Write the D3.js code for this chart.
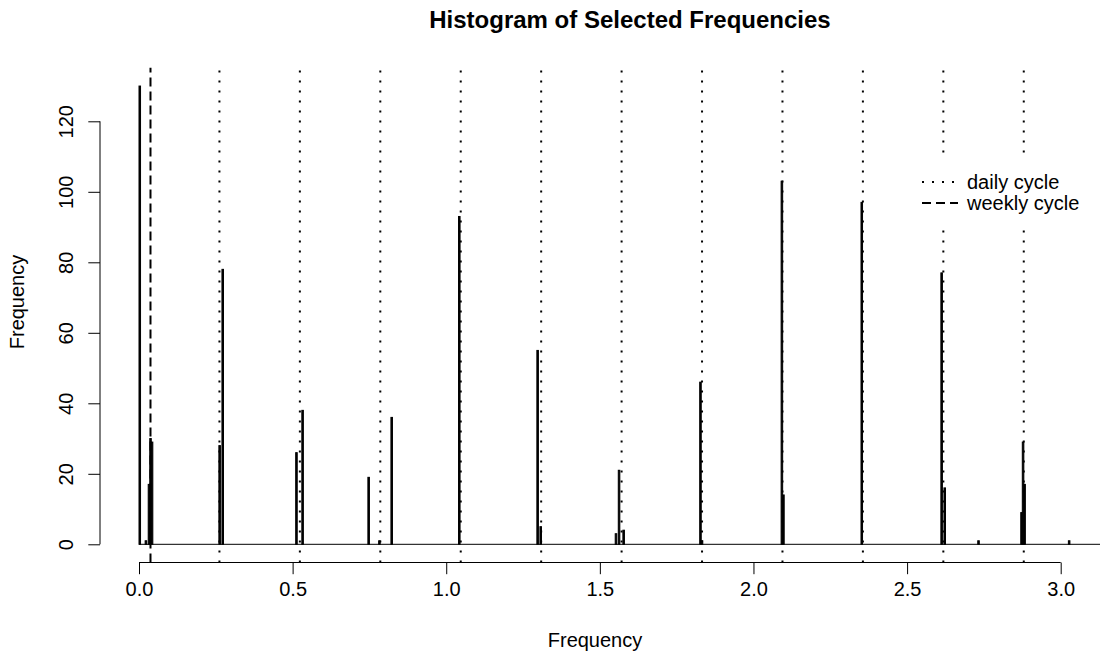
<!DOCTYPE html>
<html>
<head>
<meta charset="utf-8">
<script src="https://cdn.jsdelivr.net/npm/d3@7"></script>
<style>
body { margin: 0; background: #fff; }
text { font-family: "Liberation Sans", Arial, sans-serif; fill: #000; }
</style>
</head>
<body>
<div id="chart"></div>
<script>
// histogram bins (width 0.005); only the non-empty ones are listed
var binWidth = 0.005;
var binRange = [0, 3.2];
var binStarts = [0.000, 0.020, 0.030, 0.035, 0.040, 0.260, 0.270, 0.510, 0.530, 0.745,
                 0.780, 0.820, 1.040, 1.295, 1.305, 1.550, 1.560, 1.575, 1.825, 1.830,
                 2.090, 2.095, 2.350, 2.610, 2.620, 2.730, 2.870, 2.875, 2.880, 3.025];
var binCounts = [130, 1, 17, 30, 29, 28, 78, 26, 38, 19,
                 1, 36, 93, 55, 5, 3, 21, 4, 46, 1,
                 103, 14, 97, 77, 16, 1, 9, 29, 17, 1];

// reference lines
var dailyCycle = [0.2618, 0.5236, 0.7854, 1.0472, 1.3090, 1.5708, 1.8326, 2.0944, 2.3562, 2.6180, 2.8798];
var weeklyCycle = [0.0374];

var xTicks = [0, 0.5, 1, 1.5, 2, 2.5, 3];
var yTicks = [0, 20, 40, 60, 80, 100, 120];
var legendLabels = ["daily cycle", "weekly cycle"];

var width = 1100, height = 660;
var plotLeft = 100, plotTop = 67.7, plotBottom = 562.5;
var baseFont = 20;

var x = d3.scaleLinear().domain([0, 3]).range([139, 1060.7]);
var y = d3.scaleLinear().domain([0, 120]).range([544.3, 121.3]);

var svg = d3.select("#chart").append("svg")
	.attr("width", width)
	.attr("height", height);

var bins = binStarts.map(function(s, i) { return { x0: s, x1: s + binWidth, n: binCounts[i] }; });

// bars
svg.append("g")
	.attr("class", "bars")
	.selectAll("rect")
	.data(bins)
	.enter()
	.append("rect")
	.attr("x", function(d) { return x(d.x0); })
	.attr("y", function(d) { return y(d.n); })
	.attr("width", function(d) { return x(d.x1) - x(d.x0); })
	.attr("height", function(d) { return y(0) - y(d.n); })
	.attr("fill", "#000")
	.attr("stroke", "#000")
	.attr("stroke-width", 1);

// empty bins collapse to the baseline
svg.append("line")
	.attr("x1", x(binRange[0]))
	.attr("x2", x(binRange[1]))
	.attr("y1", y(0))
	.attr("y2", y(0))
	.attr("stroke", "#000")
	.attr("stroke-width", 1);

// cycle lines, drawn bottom to top like abline()
svg.append("g").selectAll("line")
	.data(dailyCycle)
	.enter()
	.append("line")
	.attr("x1", function(d) { return x(d); })
	.attr("x2", function(d) { return x(d); })
	.attr("y1", plotBottom)
	.attr("y2", plotTop)
	.attr("stroke", "#000")
	.attr("stroke-width", 2)
	.attr("stroke-dasharray", "2,8");

svg.append("g").selectAll("line")
	.data(weeklyCycle)
	.enter()
	.append("line")
	.attr("x1", function(d) { return x(d); })
	.attr("x2", function(d) { return x(d); })
	.attr("y1", plotBottom)
	.attr("y2", plotTop)
	.attr("stroke", "#000")
	.attr("stroke-width", 2)
	.attr("stroke-dasharray", "9,5");

// axes
var xAxis = d3.axisBottom(x)
	.tickValues(xTicks)
	.tickSize(11.7)
	.tickPadding(8)
	.tickFormat(d3.format(".1f"));
var gx = svg.append("g")
	.attr("transform", "translate(0," + plotBottom + ")")
	.call(xAxis);
gx.select(".domain").attr("d", "M" + x(0) + ",0H" + x(3));
gx.selectAll("text").attr("font-size", baseFont).attr("font-family", "Liberation Sans, Arial, sans-serif");

var yAxis = d3.axisLeft(y)
	.tickValues(yTicks)
	.tickSize(11.7);
var gy = svg.append("g")
	.attr("transform", "translate(" + plotLeft + ",0)")
	.call(yAxis);
gy.select(".domain").attr("d", "M0," + y(0) + "V" + y(120));
gy.selectAll("text")
	.attr("font-size", baseFont)
	.attr("font-family", "Liberation Sans, Arial, sans-serif")
	.attr("x", 0).attr("y", 0).attr("dy", 0)
	.attr("text-anchor", "middle")
	.attr("transform", "translate(-27,0) rotate(-90)");

svg.selectAll(".tick line, .domain").attr("stroke", "#000");

// titles
svg.append("text")
	.attr("x", 630)
	.attr("y", 28)
	.attr("text-anchor", "middle")
	.attr("font-size", 24)
	.attr("font-weight", "bold")
	.text("Histogram of Selected Frequencies");

svg.append("text")
	.attr("x", 595)
	.attr("y", 647)
	.attr("text-anchor", "middle")
	.attr("font-size", baseFont)
	.text("Frequency");

svg.append("text")
	.attr("transform", "translate(24,302) rotate(-90)")
	.attr("text-anchor", "middle")
	.attr("font-size", baseFont)
	.text("Frequency");

// legend (white background hides the cycle lines behind it)
var legend = svg.append("g").attr("transform", "translate(922,182)");
legend.append("rect")
	.attr("x", -14).attr("y", -22)
	.attr("width", 200).attr("height", 68)
	.attr("fill", "#fff");
var dashes = ["2,8", "9,5"];
legendLabels.forEach(function(label, i) {
	legend.append("line")
		.attr("x1", 0).attr("x2", 36)
		.attr("y1", i * 21).attr("y2", i * 21)
		.attr("stroke", "#000")
		.attr("stroke-width", 2)
		.attr("stroke-dasharray", dashes[i]);
	legend.append("text")
		.attr("x", 45)
		.attr("y", i * 21)
		.attr("dy", "0.35em")
		.attr("font-size", baseFont)
		.text(label);
});
</script>
</body>
</html>
